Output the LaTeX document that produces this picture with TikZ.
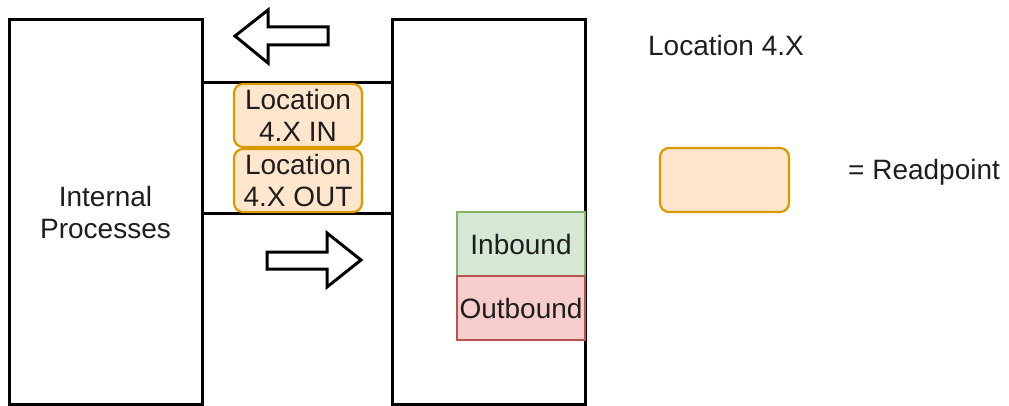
\documentclass[tikz,border=0pt]{standalone}
\usepackage{fontspec}
\setmainfont{Liberation Sans}
\usetikzlibrary{backgrounds}
\definecolor{rpfill}{HTML}{FFE6CC}
\definecolor{rpdraw}{HTML}{D79B00}
\definecolor{infill}{HTML}{D5E8D4}
\definecolor{indraw}{HTML}{82B366}
\definecolor{outfill}{HTML}{F8CECC}
\definecolor{outdraw}{HTML}{B85450}
\definecolor{ink}{HTML}{1E1E1E}
\tikzset{
  txt/.style={font=\fontsize{28}{32}\selectfont, text=ink, align=center, inner sep=0pt},
  block/.style={draw=black, line width=3pt, fill=white, minimum width=193pt, minimum height=384pt, txt},
  readpoint/.style={draw=rpdraw, fill=rpfill, line width=2.2pt, rounded corners=9pt,
    minimum width=128pt, minimum height=63pt, txt},
  inbox/.style={draw=indraw, fill=infill, line width=2.2pt, minimum width=128pt, minimum height=64pt, txt},
  outbox/.style={draw=outdraw, fill=outfill, line width=2.2pt, minimum width=128pt, minimum height=64pt, txt},
  link/.style={draw=black, line width=3pt},
  blockarrow/.style={draw=black, line width=3pt, fill=white, line join=miter},
}
\begin{document}
\begin{tikzpicture}[x=1pt, y=-1pt]
  \useasboundingbox (0,0) rectangle (1009,406);

  % the two facilities
  \node[block] (proc) at (105.5,212) {Internal\\Processes};
  \node[block] (site) at (489,212) {};

  % readpoints between them
  \node[readpoint] (rin)  at (298,115.5) {Location\\4.X IN};
  \node[readpoint] (rout) at (298,180.5) {Location\\4.X OUT};

  % connecting lines, kept behind the readpoints
  \begin{scope}[on background layer]
    \draw[link] (proc.east |- rin.north) -- (site.west |- rin.north);
    \draw[link] (proc.east |- rout.south) -- (site.west |- rout.south);
  \end{scope}

  % inbound / outbound areas inside the facility
  \node[inbox]  (inb)  at (521,244) {Inbound};
  \node[outbox] (outb) at (521,308) {Outbound};

  % direction arrows
  \draw[blockarrow] (235,36) -- (268,10) -- (268,27) -- (328,27) -- (328,45) -- (268,45) -- (268,63) -- cycle;
  \draw[blockarrow] (361,260) -- (327,287) -- (327,269) -- (267,269) -- (267,252) -- (327,252) -- (327,233) -- cycle;

  % legend
  \node[txt] (title) at (726,45) {Location 4.X};
  \node[readpoint, minimum width=129pt, minimum height=64pt] (key) at (724.5,180) {};
  \node[txt, anchor=west] (keytext) at (848,172) {= Readpoint};
\end{tikzpicture}
\end{document}
